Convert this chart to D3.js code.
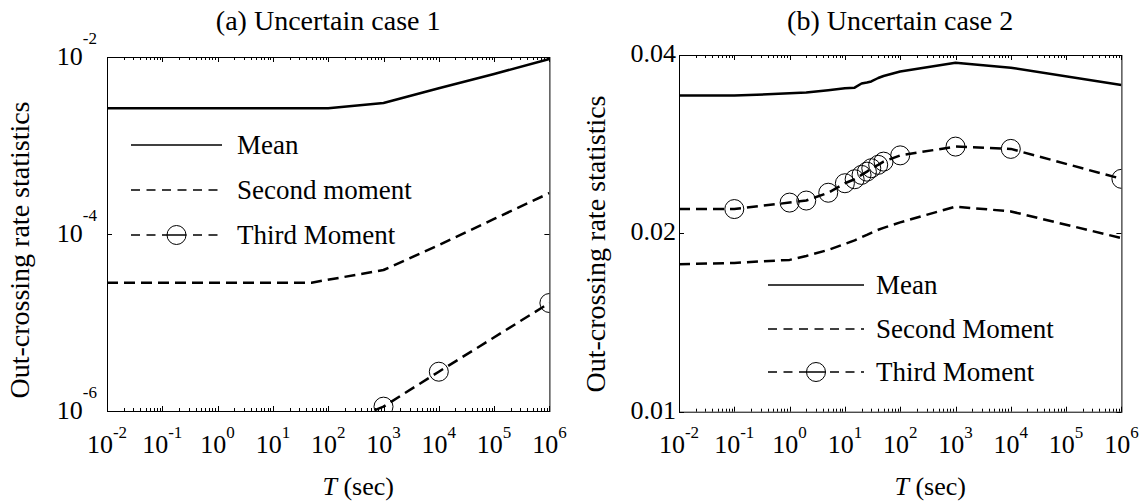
<!DOCTYPE html>
<html>
<head>
<meta charset="utf-8">
<script src="https://cdn.jsdelivr.net/npm/d3@7"></script>
<style>
  body { margin: 0; background: #fff; }
  svg { display: block; }
  text { font-family: "Liberation Serif", "Times New Roman", serif; fill: #000; }
</style>
</head>
<body>
<svg id="chart" width="1147" height="504"></svg>
<script>
// ---- Case 1: out-crossing rate statistics vs. duration T ----
const tMeanA   = [0.01, 100, 1000, 1e4, 1e5, 1e6];
const meanA    = [2.63e-3, 2.63e-3, 3.02e-3, 4.43e-3, 6.43e-3, 9.5e-3];
const tSecondA = [0.01, 50, 1000, 1e4, 1e5, 1e6];
const secondA  = [2.82e-5, 2.82e-5, 3.92e-5, 7.5e-5, 1.48e-4, 2.9e-4];
const tThirdA  = [100, 1000, 1e4, 1e6];
const thirdA   = [6.3e-7, 1.12e-6, 2.78e-6, 1.66e-5];

// ---- Case 2 ----
const tB      = [0.01, 0.1, 1, 2, 5, 10, 15, 20, 25, 30, 40, 50, 100, 1e3, 1e4, 1e6];
const meanB   = [0.03416, 0.03416, 0.03446, 0.03456, 0.03489, 0.03514, 0.03523, 0.0358,
                 0.03594, 0.03609, 0.03658, 0.03687, 0.03752, 0.03882, 0.03808, 0.0356];
const secondB = [0.01774, 0.01783, 0.01804, 0.01832, 0.01875, 0.01919, 0.01946, 0.0197,
                 0.01988, 0.02004, 0.02028, 0.02043, 0.02087, 0.02219, 0.02178, 0.01964];
const thirdB  = [0.02198, 0.02198, 0.02254, 0.02272, 0.02342, 0.0243, 0.02468, 0.0251,
                 0.02542, 0.02576, 0.0261, 0.02643, 0.02708, 0.02802, 0.02777, 0.02472];

// ---- Axes and labels ----
const xTickExps = [-2, -1, 0, 1, 2, 3, 4, 5, 6];
const yTickExpsA = [-2, -4, -6];
const yTicksB = [0.04, 0.02, 0.01];
const yTickLabelsB = ["0.04", "0.02", "0.01"];
const titles = ["(a) Uncertain case 1", "(b) Uncertain case 2"];
const yTitle = "Out-crossing rate statistics";
const legendA = ["Mean", "Second moment", "Third Moment"];
const legendB = ["Mean", "Second Moment", "Third Moment"];

const svg = d3.select("#chart");
const DASH = "11,6";
const LW = 2.5;
const R = 9.5;

function drawPanel(cfg) {
  const g = svg.append("g");
  const x = d3.scaleLog().domain([1e-2, 1e6]).range([cfg.left, cfg.right]);
  const y = d3.scaleLog().domain(cfg.yDomain).range([cfg.bottom, cfg.top]);

  const clipId = "clip-" + cfg.key;
  svg.append("defs").append("clipPath").attr("id", clipId)
    .append("rect")
    .attr("x", cfg.left).attr("y", cfg.top)
    .attr("width", cfg.right - cfg.left).attr("height", cfg.bottom - cfg.top);

  // minor and major ticks on x (bottom and top, pointing inward)
  const minor = [];
  for (let e = -2; e < 6; e++) for (let m = 2; m <= 9; m++) minor.push(m * Math.pow(10, e));
  const major = xTickExps.map(e => Math.pow(10, e));
  const tk = g.append("g").attr("stroke", "#000").attr("stroke-width", 1);
  const xt = (v, len) => {
    const px = Math.round(x(v)) + 0.5;
    tk.append("line").attr("x1", px).attr("x2", px).attr("y1", cfg.bottom).attr("y2", cfg.bottom - len);
    tk.append("line").attr("x1", px).attr("x2", px).attr("y1", cfg.top).attr("y2", cfg.top + len);
  };
  minor.forEach(v => xt(v, 3));
  major.forEach(v => xt(v, 5));
  cfg.yTicks.forEach(v => {
    const py = Math.round(y(v)) + 0.5;
    tk.append("line").attr("x1", cfg.left).attr("x2", cfg.left + 5).attr("y1", py).attr("y2", py);
    tk.append("line").attr("x1", cfg.right).attr("x2", cfg.right - 5).attr("y1", py).attr("y2", py);
  });

  // frame
  g.append("rect")
    .attr("x", cfg.left + 0.5).attr("y", cfg.top + 0.5)
    .attr("width", cfg.right - cfg.left).attr("height", cfg.bottom - cfg.top)
    .attr("fill", "none").attr("stroke", "#000").attr("stroke-width", 1);

  // x tick labels 10^e
  xTickExps.forEach(e => {
    const t = g.append("text")
      .attr("x", x(Math.pow(10, e))).attr("y", 453)
      .attr("text-anchor", "middle").attr("font-size", 26);
    t.append("tspan").text("10");
    t.append("tspan").attr("dy", -15).attr("font-size", 17).text(String(e));
  });

  // y tick labels
  cfg.yTicks.forEach((v, i) => {
    const t = g.append("text")
      .attr("x", cfg.yLabelEnd).attr("y", y(v) + cfg.yLabelDy)
      .attr("text-anchor", "end").attr("font-size", 26);
    if (cfg.yExps) {
      t.append("tspan").text("10");
      t.append("tspan").attr("dy", -21).attr("font-size", 17).text(String(cfg.yExps[i]));
    } else {
      t.text(cfg.yLabels[i]);
    }
  });

  // titles
  const cx = (cfg.left + cfg.right) / 2;
  g.append("text").attr("x", cx).attr("y", 30).attr("text-anchor", "middle")
    .attr("font-size", 28).text(cfg.title);
  const xl = g.append("text").attr("x", cx + 30).attr("y", 495)
    .attr("text-anchor", "middle").attr("font-size", 26);
  xl.append("tspan").attr("font-style", "italic").text("T");
  xl.append("tspan").text(" (sec)");
  g.append("text")
    .attr("transform", `translate(${cfg.yTitleX},${cfg.yTitleY}) rotate(-90)`)
    .attr("text-anchor", "middle").attr("font-size", 28).text(yTitle);

  // series
  const plot = g.append("g").attr("clip-path", `url(#${clipId})`);
  const line = d3.line().x(d => x(d[0])).y(d => y(d[1]));
  cfg.series.forEach(s => {
    const pts = s.t.map((tv, i) => [tv, s.v[i]]);
    plot.append("path").datum(pts).attr("d", line)
      .attr("fill", "none").attr("stroke", "#000").attr("stroke-width", LW)
      .attr("stroke-dasharray", s.dashed ? DASH : null)
      .attr("stroke-linejoin", "round");
    if (s.markers) {
      plot.selectAll(null).data(pts.filter(d => d[0] >= s.markFrom)).enter()
        .append("circle")
        .attr("cx", d => x(d[0])).attr("cy", d => y(d[1])).attr("r", R)
        .attr("fill", "none").attr("stroke", "#000").attr("stroke-width", 1);
    }
  });

  // legend
  const lg = g.append("g");
  cfg.legend.forEach((label, i) => {
    const ly = cfg.legY[i];
    const mid = (cfg.legX0 + cfg.legX1) / 2;
    lg.append("line").attr("x1", cfg.legX0).attr("x2", cfg.legX1).attr("y1", ly).attr("y2", ly)
      .attr("stroke", "#000").attr("stroke-width", 1.5)
      .attr("stroke-dasharray", i === 0 ? null : "9,6.5");
    if (i === 2) {
      lg.append("circle").attr("cx", mid).attr("cy", ly).attr("r", R)
        .attr("fill", "#fff").attr("stroke", "#000").attr("stroke-width", 1);
      lg.append("line").attr("x1", mid - R).attr("x2", mid + R)
        .attr("y1", ly).attr("y2", ly).attr("stroke", "#000").attr("stroke-width", 1.5);
    }
    lg.append("text").attr("x", cfg.legText).attr("y", ly + 9)
      .attr("font-size", 27).text(label);
  });
}

drawPanel({
  key: "a", left: 107, right: 549.4, top: 57, bottom: 411,
  yDomain: [1e-6, 1e-2],
  yTicks: yTickExpsA.map(e => Math.pow(10, e)), yExps: yTickExpsA,
  yLabelEnd: 97, yLabelDy: 8,
  title: titles[0], yTitleX: 29, yTitleY: 250,
  series: [
    { t: tMeanA, v: meanA },
    { t: tSecondA, v: secondA, dashed: true },
    { t: tThirdA, v: thirdA, dashed: true, markers: true, markFrom: 1e3 }
  ],
  legend: legendA, legX0: 131, legX1: 222, legText: 237, legY: [145, 190, 235]
});

drawPanel({
  key: "b", left: 679, right: 1121.4, top: 55, bottom: 411.7,
  yDomain: [0.01, 0.04],
  yTicks: yTicksB, yLabels: yTickLabelsB,
  yLabelEnd: 676, yLabelDy: 7,
  title: titles[1], yTitleX: 605, yTitleY: 244,
  series: [
    { t: tB, v: meanB },
    { t: tB, v: secondB, dashed: true },
    { t: tB, v: thirdB, dashed: true, markers: true, markFrom: 0.1 }
  ],
  legend: legendB, legX0: 768, legX1: 864, legText: 876, legY: [285, 329, 372]
});
</script>
</body>
</html>
